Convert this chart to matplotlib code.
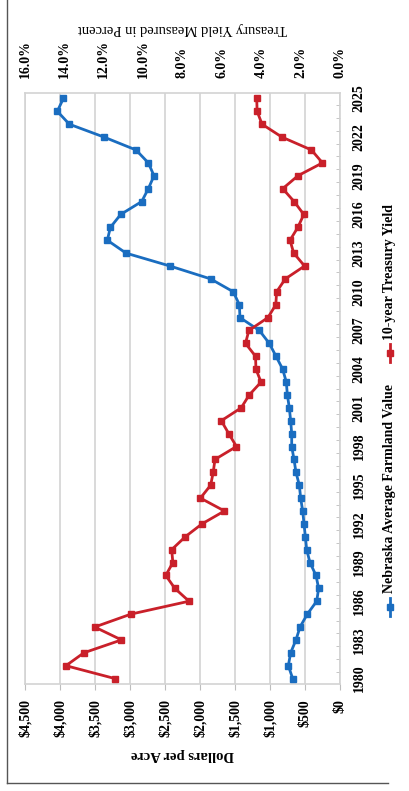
import matplotlib
matplotlib.use('Agg')
import matplotlib.pyplot as plt
from matplotlib.lines import Line2D

# ---------------- data ----------------
years = list(range(1980, 2026))
farmland_value = [676, 738, 705, 629, 571, 467, 333, 305, 343, 429,
                  476, 495, 514, 533, 562, 581, 629, 657, 690, 690,
                  705, 724, 752, 767, 819, 914, 1010, 1152, 1429, 1438,
                  1524, 1848, 2429, 3057, 3324, 3280, 3133, 2833, 2738, 2657,
                  2738, 2914, 3371, 3867, 4038, 3952]
treasury_yield = [11.43, 13.92, 13.01, 11.10, 12.46, 10.62, 7.67, 8.39, 8.85, 8.49,
                  8.55, 7.86, 7.01, 5.87, 7.09, 6.57, 6.44, 6.35, 5.26, 5.65,
                  6.03, 5.02, 4.61, 4.01, 4.27, 4.29, 4.80, 4.63, 3.66, 3.26,
                  3.22, 2.78, 1.80, 2.35, 2.54, 2.14, 1.84, 2.33, 2.91, 2.14,
                  0.89, 1.45, 2.95, 3.96, 4.21, 4.23]
dollar_ticks = [0, 500, 1000, 1500, 2000, 2500, 3000, 3500, 4000, 4500]
dollar_labels = ['$0', '$500', '$1,000', '$1,500', '$2,000', '$2,500',
                 '$3,000', '$3,500', '$4,000', '$4,500']
yield_ticks = [0, 2, 4, 6, 8, 10, 12, 14, 16]
yield_labels = ['0.0%', '2.0%', '4.0%', '6.0%', '8.0%', '10.0%', '12.0%', '14.0%', '16.0%']
year_ticks = list(range(1980, 2026, 3))
series_names = ['Nebraska Average Farmland Value', '10-year Treasury Yield']

BLUE = '#1a6dc0'
RED = '#c9202a'
GRID = '#d3d3d3'
SERIF = ['Liberation Serif', 'DejaVu Serif']

W, H = 409, 791
fig = plt.figure(figsize=(W / 100, H / 100), dpi=100)
fig.patch.set_facecolor('white')

# plot area in pixels: x 25..340, y 93..684
ax = fig.add_axes([25 / W, 1 - 684 / H, 315 / W, 591 / H])
ax.set_xlim(4500, 0)
ax.set_ylim(1980 - 0.42, 2025 + 0.42)

ax.plot(farmland_value, years, color=BLUE, lw=2.0, marker='s', ms=4.8,
        zorder=3, solid_joinstyle='round')

ax.set_xticks(dollar_ticks)
ax.set_xticklabels(dollar_labels, rotation=90, va='top', ha='center',
                   fontfamily=SERIF, fontweight='bold', fontsize=10)
ax.tick_params(axis='x', length=4, color='#bdbdbd', pad=7)
ax.grid(axis='x', color=GRID, lw=1.2)
ax.set_axisbelow(True)
for s in ax.spines.values():
    s.set_color(GRID)
    s.set_linewidth(1.2)

ax.yaxis.tick_right()
ax.set_yticks(year_ticks)
ax.set_yticklabels([str(y) for y in year_ticks], rotation=90, va='center', ha='left',
                   fontfamily=SERIF, fontweight='bold', fontsize=10)
ax.tick_params(axis='y', which='major', length=0, pad=9)
ax.set_yticks([y + 0.5 for y in range(1980, 2025)], minor=True)
ax.tick_params(axis='y', which='minor', length=3, direction='in', color='#bdbdbd')

ax2 = ax.twiny()
ax2.set_xlim(16, 0)
ax2.plot(treasury_yield, years, color=RED, lw=2.0, marker='s', ms=4.8,
         zorder=3, solid_joinstyle='round')
ax2.set_xticks(yield_ticks)
ax2.set_xticklabels(yield_labels, rotation=90, va='bottom', ha='center',
                    fontfamily=SERIF, fontweight='bold', fontsize=10)
ax2.tick_params(axis='x', length=0, pad=11)
for s in ax2.spines.values():
    s.set_visible(False)

# axis titles (chart is rotated)
fig.text(183 / W, 1 - 755 / H, 'Dollars per Acre', rotation=180, ha='center', va='center',
         fontfamily=SERIF, fontweight='bold', fontsize=10.5)
fig.text(182 / W, 1 - 28 / H, 'Treasury Yield Measured in Percent', rotation=180,
         ha='center', va='center', fontfamily=SERIF, fontsize=10.5)

# manual rotated legend
lx = 390 / W
for (ymark, ytext, col, name) in [(607, 593, BLUE, series_names[0]),
                                  (353, 340, RED, series_names[1])]:
    fig.add_artist(Line2D([lx, lx], [1 - (ymark + 9) / H, 1 - (ymark - 9) / H],
                          transform=fig.transFigure, color=col, lw=2.0))
    fig.add_artist(Line2D([lx], [1 - ymark / H], transform=fig.transFigure,
                          color=col, marker='s', ms=4.8, lw=0))
    fig.text(lx, 1 - ytext / H, name, rotation=90, ha='center', va='bottom',
             fontfamily=SERIF, fontweight='bold', fontsize=10)

# outer frame lines of the scanned figure
fig.add_artist(Line2D([7 / W, 7 / W], [1 - 783 / H, 1], transform=fig.transFigure,
                      color='#555555', lw=1.0))
fig.add_artist(Line2D([7 / W, 388 / W], [1 - 783 / H, 1 - 783 / H],
                      transform=fig.transFigure, color='#555555', lw=1.0))

fig.savefig('out.png', dpi=100)
